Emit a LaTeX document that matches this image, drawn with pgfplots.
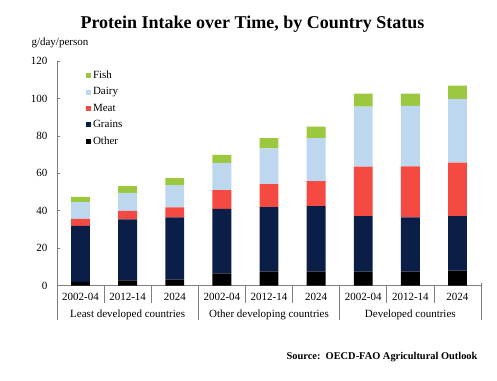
\documentclass[border=0pt]{standalone}
\usepackage{fontspec}
\setmainfont{Liberation Serif}
\usepackage{pgfplots}
\pgfplotsset{compat=1.18}
\definecolor{cfish}{HTML}{9BC83E}
\definecolor{cdairy}{HTML}{BDD7EE}
\definecolor{cmeat}{HTML}{F44A42}
\definecolor{cgrains}{HTML}{0A1E48}
\definecolor{cother}{HTML}{000000}
\definecolor{caxis}{HTML}{7F7F7F}
\begin{document}
\begin{tikzpicture}[x=1pt,y=1pt]
\useasboundingbox (0,0) rectangle (497,380);
\node[font=\bfseries\fontsize{18}{21}\selectfont] at (252.5,356) {Protein Intake over Time, by Country Status};
\node[anchor=west, font=\fontsize{11}{13}\selectfont] at (28,336.7) {g/day/person};
\node[anchor=east, font=\bfseries\fontsize{10.4}{12}\selectfont] at (481,23) {Source:\ \ OECD-FAO Agricultural Outlook};
\begin{axis}[
  at={(57pt,94.3pt)}, anchor=south west,
  scale only axis, width=424pt, height=224.7pt,
  xmin=-0.5, xmax=8.5, ymin=0, ymax=120,
  ybar stacked, bar width=0.4,
  axis x line*=bottom, axis y line*=left,
  axis line style={caxis, line width=0.6pt, -},
  xtick={0,...,8},
  xticklabels={2002-04,2012-14,2024,2002-04,2012-14,2024,2002-04,2012-14,2024},
  x tick style={draw=none},
  ytick={0,20,...,120},
  y tick style={caxis, line width=0.6pt},
  tick align=inside, major tick length=3pt,
  tick label style={font=\fontsize{11}{13}\selectfont, text=black},
  /pgf/number format/assume math mode=true,
  xticklabel style={anchor=base, yshift=-14.5pt},
  yticklabel style={xshift=-6pt},
  clip=false,
  reverse legend,
  legend cell align=left,
  legend style={at={(0.068,0.965)}, anchor=north west, draw=none, fill=none,
    font=\fontsize{11}{13}\selectfont, row sep=3.5pt, inner sep=0pt,
    /tikz/every odd column/.append style={column sep=0pt}},
  legend image code/.code={\fill[#1] (0pt,-2.5pt) rectangle (5pt,2.5pt);},
]
\addplot[fill=cother, draw=none] coordinates {(0,2.1) (1,2.9) (2,3.2) (3,6.6) (4,7.5) (5,7.5) (6,7.5) (7,7.5) (8,8.0)};
\addplot[fill=cgrains, draw=none] coordinates {(0,29.9) (1,32.5) (2,33.3) (3,34.4) (4,34.5) (5,35.0) (6,29.7) (7,29.0) (8,29.2)};
\addplot[fill=cmeat, draw=none] coordinates {(0,3.7) (1,4.6) (2,5.3) (3,10.0) (4,12.2) (5,13.3) (6,26.4) (7,27.2) (8,28.5)};
\addplot[fill=cdairy, draw=none] coordinates {(0,8.9) (1,9.6) (2,11.9) (3,14.6) (4,19.2) (5,23.0) (6,32.0) (7,32.3) (8,34.1)};
\addplot[fill=cfish, draw=none] coordinates {(0,2.9) (1,3.6) (2,3.7) (3,4.3) (4,5.4) (5,6.2) (6,7.0) (7,6.6) (8,7.0)};
\legend{Other,Grains,Meat,Dairy,Fish}
\draw[caxis, line width=0.6pt] (axis cs:0.5,0) -- ([yshift=-17pt]axis cs:0.5,0);
\draw[caxis, line width=0.6pt] (axis cs:1.5,0) -- ([yshift=-17pt]axis cs:1.5,0);
\draw[caxis, line width=0.6pt] (axis cs:3.5,0) -- ([yshift=-17pt]axis cs:3.5,0);
\draw[caxis, line width=0.6pt] (axis cs:4.5,0) -- ([yshift=-17pt]axis cs:4.5,0);
\draw[caxis, line width=0.6pt] (axis cs:6.5,0) -- ([yshift=-17pt]axis cs:6.5,0);
\draw[caxis, line width=0.6pt] (axis cs:7.5,0) -- ([yshift=-17pt]axis cs:7.5,0);
\draw[caxis, line width=0.6pt] (axis cs:-0.5,0) -- ([yshift=-34pt]axis cs:-0.5,0);
\draw[caxis, line width=0.6pt] (axis cs:2.5,0) -- ([yshift=-34pt]axis cs:2.5,0);
\draw[caxis, line width=0.6pt] (axis cs:5.5,0) -- ([yshift=-34pt]axis cs:5.5,0);
\draw[caxis, line width=0.6pt] ([yshift=3pt]axis cs:8.5,0) -- ([yshift=-34pt]axis cs:8.5,0);
\node[anchor=base, font=\fontsize{11}{13}\selectfont] at ([yshift=-31.5pt]axis cs:1,0) {Least developed countries};
\node[anchor=base, font=\fontsize{11}{13}\selectfont] at ([yshift=-31.5pt]axis cs:4,0) {Other developing countries};
\node[anchor=base, font=\fontsize{11}{13}\selectfont] at ([yshift=-31.5pt]axis cs:7,0) {Developed countries};
\end{axis}
\end{tikzpicture}
\end{document}
